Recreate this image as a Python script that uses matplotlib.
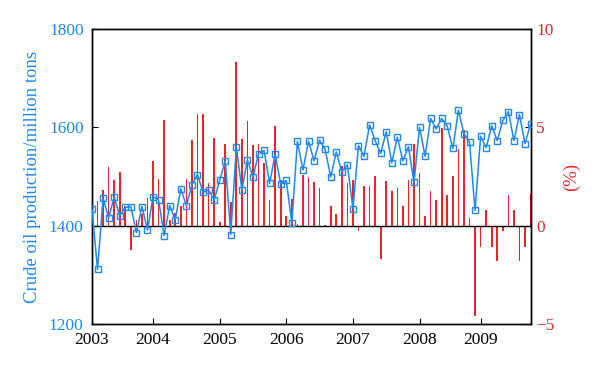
import matplotlib
matplotlib.use("Agg")
import matplotlib.pyplot as plt
import numpy as np

plt.rcParams['font.family'] = ['Liberation Serif', 'DejaVu Serif']

# Monthly crude oil production (million tons), Jan 2003 - Aug 2009
production = [1433, 1311, 1456, 1416, 1458, 1420, 1437, 1439, 1386, 1439, 1391, 1459,
              1452, 1380, 1441, 1412, 1475, 1441, 1483, 1504, 1468, 1473, 1452, 1492,
              1532, 1382, 1560, 1473, 1534, 1499, 1546, 1553, 1486, 1546, 1484, 1492,
              1405, 1572, 1513, 1572, 1532, 1574, 1555, 1499, 1550, 1509, 1524, 1434,
              1563, 1541, 1605, 1573, 1547, 1591, 1528, 1580, 1532, 1561, 1488, 1600,
              1541, 1618, 1597, 1618, 1602, 1557, 1635, 1587, 1570, 1431, 1582, 1559,
              1603, 1573, 1614, 1632, 1573, 1626, 1567, 1607]
# Growth rate (%)
growth = [1.0, 1.26, 1.83, 3.0, 2.34, 2.72, 0.98, -1.23, 0.3, 0.6, 1.4, 3.3,
          2.39, 5.39, 0.3, 0.66, 0.98, 2.39, 4.37, 5.68, 5.68, 2.17, 4.47, 0.2,
          4.17, 1.2, 8.3, 4.4, 5.3, 4.08, 4.17, 3.19, 1.29, 5.08, 2.34, 0.51,
          1.37, 0.1, 2.58, 2.48, 2.2, 1.91, 0.05, 0.98, 0.61, 3.02, 2.17, 2.3,
          -0.29, 2.0, 2.0, 2.51, -1.69, 2.29, 1.78, 1.9, 0.98, 2.34, 4.17, 2.68,
          0.51, 1.78, 1.29, 4.97, 1.58, 2.51, 3.9, 4.85, 0.39, -4.6, -1.08, 0.78,
          -1.08, -1.81, -0.29, 1.58, 0.78, -1.81, -1.08, 1.6]
year_labels = ['2003', '2004', '2005', '2006', '2007', '2008', '2009']
year_tick_idx = [0, 11, 23, 35, 47, 59, 70]

blue = '#2088ee'
red = '#e8262a'

x = np.arange(len(production))

fig = plt.figure(figsize=(6, 3.72), dpi=100)
ax1 = fig.add_axes([0.1533, 0.129, 0.731, 0.793])
ax2 = ax1.twinx()

ax2.bar(x, growth, width=0.3, color=red, zorder=2)
ax2.set_ylim(-5, 10)
ax2.set_yticks([-5, 0, 5, 10])
ax2.tick_params(axis='y', direction='in', colors='black', labelcolor=red,
                labelsize=12.5, length=4, pad=4)
ax2.set_ylabel('(%)', color=red, fontsize=13.5, labelpad=6)

ax1.set_zorder(ax2.get_zorder() + 1)
ax1.patch.set_visible(False)
ax1.axhline(1400, color='black', lw=1.0, zorder=1)
ax1.plot(x, production, color=blue, lw=1.1, marker='s', markersize=5,
         markerfacecolor='none', markeredgecolor=blue, markeredgewidth=1.0, zorder=3)
ax1.set_ylim(1200, 1800)
ax1.set_yticks([1200, 1400, 1600, 1800])
ax1.set_xlim(0, len(production) - 1)
ax1.set_xticks(year_tick_idx)
ax1.set_xticklabels(year_labels)
ax1.tick_params(axis='y', direction='in', labelcolor=blue, labelsize=12.5, length=4, pad=6)
ax1.tick_params(axis='x', direction='in', labelsize=12.5, length=4, pad=6)
ax1.set_ylabel('Crude oil production/million tons', color=blue, fontsize=13.5, labelpad=6)

for ax in (ax1, ax2):
    for s in ax.spines.values():
        s.set_linewidth(1.0)

fig.savefig('out.png', dpi=100)
